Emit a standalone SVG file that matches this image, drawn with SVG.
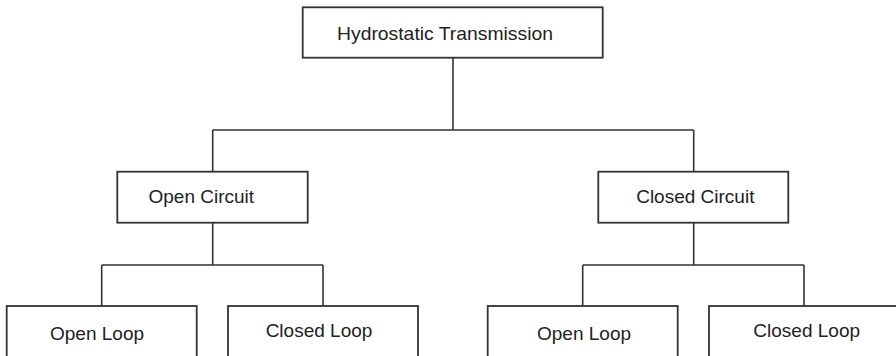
<svg xmlns="http://www.w3.org/2000/svg" width="896" height="356" viewBox="0 0 896 356">
<style>
.box{fill:#fff;stroke:#333;stroke-width:1.8}
.lbl{font-family:"Liberation Sans",Arial,sans-serif;font-size:19px;fill:#222;text-anchor:middle}
.con{fill:none;stroke:#333;stroke-width:1.6}
</style>
<rect width="896" height="356" fill="#fff"/>
<g id="connectors">
<path class="con" d="M453,58 V130 M212.7,130 H693.7 M212.7,130 V172 M693.7,130 V172"/>
<path class="con" d="M212.7,223 V265 M101.7,265 H323 M101.7,265 V306 M323,265 V306"/>
<path class="con" d="M693.7,223 V265 M582.7,265 H804 M582.7,265 V306 M804,265 V306"/>
</g>
<g id="n-hydrostatic">
<rect class="box" x="302.7" y="7.3" width="300" height="50.4"/>
<text class="lbl" x="445" y="40" textLength="216" lengthAdjust="spacingAndGlyphs">Hydrostatic Transmission</text>
</g>
<g id="n-open-circuit">
<rect class="box" x="117.3" y="171.7" width="190.4" height="51"/>
<text class="lbl" x="201.3" y="203.3">Open Circuit</text>
</g>
<g id="n-closed-circuit">
<rect class="box" x="598.3" y="171.7" width="190" height="51"/>
<text class="lbl" x="695.3" y="203.3">Closed Circuit</text>
</g>
<g id="n-open-loop-1">
<rect class="box" x="6.7" y="306" width="190" height="60"/>
<text class="lbl" x="97" y="340">Open Loop</text>
</g>
<g id="n-closed-loop-1">
<rect class="box" x="228" y="306" width="190" height="60"/>
<text class="lbl" x="319" y="337">Closed Loop</text>
</g>
<g id="n-open-loop-2">
<rect class="box" x="487.7" y="306" width="190" height="60"/>
<text class="lbl" x="584" y="340">Open Loop</text>
</g>
<g id="n-closed-loop-2">
<rect class="box" x="709" y="306" width="200" height="60"/>
<text class="lbl" x="806.7" y="337">Closed Loop</text>
</g>
</svg>
